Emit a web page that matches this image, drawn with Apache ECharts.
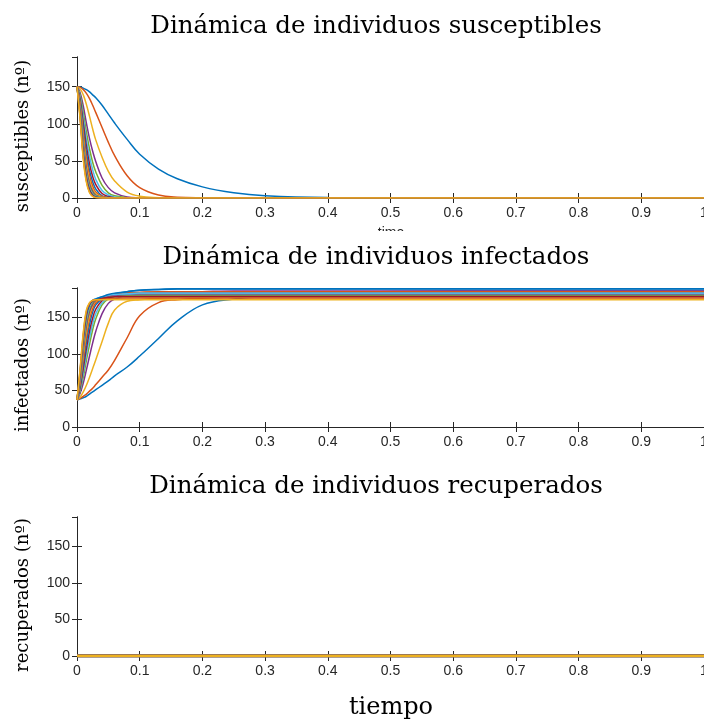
<!DOCTYPE html>
<html>
<head>
<meta charset="utf-8">
<title>Dinámica de individuos</title>
<script src="https://cdn.jsdelivr.net/npm/echarts@6/dist/echarts.min.js"></script>
<style>
    html, body { margin: 0; padding: 0; background: #fff; }
    #sir_chart { width: 704px; height: 726px; }
</style>
</head>
<body>
<div id="sir_chart"></div>
<script>

// Chart data
// ------------------------------

// Time samples (shared by every curve)
var tiempo = [0, 0.005, 0.01, 0.015, 0.02, 0.025, 0.03, 0.04, 0.05, 0.06, 0.08, 0.1, 0.13, 0.16, 0.2, 0.25, 0.3, 0.4, 0.6, 1];

// Susceptibles, one row per simulation
var susceptibles = [
    [150, 149.5, 148, 146, 143, 139, 135, 125, 113, 101, 79, 59, 39, 26, 15, 7, 3, 0.6, 0, 0],
    [150, 149, 146, 141, 134, 125, 115, 95, 75, 57, 30, 14, 4, 1, 0.2, 0, 0, 0, 0, 0],
    [150, 147, 139, 126, 110, 93, 78, 55, 36, 23, 8, 2.5, 0.5, 0, 0, 0, 0, 0, 0, 0],
    [150, 142, 124, 101, 80, 63, 49, 27, 14, 7, 1.5, 0.3, 0, 0, 0, 0, 0, 0, 0, 0],
    [150, 139, 115, 89, 66, 48, 35, 17, 7, 3, 0.5, 0, 0, 0, 0, 0, 0, 0, 0, 0],
    [150, 136, 108, 79, 56, 38, 25, 10, 4, 1.5, 0, 0, 0, 0, 0, 0, 0, 0, 0, 0],
    [150, 133, 101, 70, 46, 29, 18, 6, 2, 0.5, 0, 0, 0, 0, 0, 0, 0, 0, 0, 0],
    [150, 130, 94, 61, 37, 22, 12, 3, 1, 0, 0, 0, 0, 0, 0, 0, 0, 0, 0, 0],
    [150, 127, 87, 53, 30, 16, 8, 2, 0.5, 0, 0, 0, 0, 0, 0, 0, 0, 0, 0, 0],
    [150, 124, 81, 46, 24, 12, 6, 1, 0, 0, 0, 0, 0, 0, 0, 0, 0, 0, 0, 0],
    [150, 121, 75, 40, 19, 9, 4, 0.8, 0, 0, 0, 0, 0, 0, 0, 0, 0, 0, 0, 0],
    [150, 118, 70, 35, 16, 7, 3, 0.5, 0, 0, 0, 0, 0, 0, 0, 0, 0, 0, 0, 0],
    [150, 115, 65, 31, 13, 5, 2, 0.3, 0, 0, 0, 0, 0, 0, 0, 0, 0, 0, 0, 0],
    [150, 112, 61, 28, 11, 4, 1.5, 0, 0, 0, 0, 0, 0, 0, 0, 0, 0, 0, 0, 0],
    [150, 110, 58, 25, 9, 3, 1, 0, 0, 0, 0, 0, 0, 0, 0, 0, 0, 0, 0, 0],
    [150, 108, 55, 23, 8, 2.5, 0.8, 0, 0, 0, 0, 0, 0, 0, 0, 0, 0, 0, 0, 0],
    [150, 106, 52, 21, 7, 2, 0.5, 0, 0, 0, 0, 0, 0, 0, 0, 0, 0, 0, 0, 0]
];

// Infectados, one row per simulation
var infectados = [
    [37, 38.5, 40, 42, 45, 48, 51, 57, 63, 70, 82, 97, 121, 145, 167, 175, 178, 183, 186, 186],
    [37, 39, 42, 45, 49, 53, 58, 68, 78, 91, 122, 152, 170, 174, 176, 178, 180, 183, 185, 185],
    [37, 41, 48, 57, 68, 80, 92, 117, 142, 160, 172, 174, 176, 177, 177, 177, 177, 177, 177, 177],
    [37, 46, 60, 78, 97, 115, 131, 155, 169, 175, 179, 181, 183, 184, 185, 186, 186, 186, 186, 186],
    [37, 49, 68, 91, 113, 133, 148, 167, 175, 178, 180, 181, 181, 181, 181, 181, 181, 181, 181, 181],
    [37, 51, 74, 99, 122, 141, 155, 170, 176, 179, 181, 182, 182, 182, 182, 182, 182, 182, 182, 182],
    [37, 54, 80, 107, 131, 149, 161, 173, 178, 181, 183, 184, 184, 184, 184, 184, 184, 184, 184, 184],
    [37, 57, 87, 116, 140, 157, 167, 175, 179, 182, 185, 187, 188, 189, 189, 189, 189, 189, 189, 189],
    [37, 60, 93, 124, 148, 162, 170, 176, 179, 181, 183, 184, 185, 185, 185, 185, 185, 185, 185, 185],
    [37, 63, 99, 131, 153, 166, 172, 175, 176, 176, 177, 177, 177, 177, 177, 177, 177, 177, 177, 177],
    [37, 66, 105, 138, 158, 168, 173, 176, 178, 179, 180, 180, 180, 180, 180, 180, 180, 180, 180, 180],
    [37, 69, 110, 143, 162, 170, 174, 176, 177, 178, 179, 179, 179, 179, 179, 179, 179, 179, 179, 179],
    [37, 72, 115, 148, 165, 172, 175, 178, 180, 181, 182, 183, 183, 183, 183, 183, 183, 183, 183, 183],
    [37, 74, 119, 152, 167, 172, 174, 176, 177, 178, 178, 178, 178, 178, 178, 178, 178, 178, 178, 178],
    [37, 76, 123, 155, 168, 173, 175, 178, 181, 183, 185, 187, 188, 188.5, 188.5, 188.5, 188.5, 188.5, 188.5, 188.5],
    [37, 78, 126, 158, 169, 173, 174, 174.5, 175, 175, 175, 175, 175, 175, 175, 175, 175, 175, 175, 175],
    [37, 80, 129, 160, 170, 173, 174, 174, 174, 174, 174, 174, 174, 174, 174, 174, 174, 174, 174, 174]
];

// Recuperados (the same for every simulation)
var recuperados = [0, 0, 0, 0, 0, 0, 0, 0, 0, 0, 0, 0, 0, 0, 0, 0, 0, 0, 0, 0];

// Panel texts
var titulos = ['Dinámica de individuos susceptibles', 'Dinámica de individuos infectados', 'Dinámica de individuos recuperados'];
var etiquetasY = ['susceptibles (nº)', 'infectados (nº)', 'recuperados (nº)'];


// Setup module
// ------------------------------

var SirDynamics = function() {

    var _sirChart = function() {
        if (typeof echarts == 'undefined') {
            console.warn('Warning - echarts.min.js is not loaded.');
            return;
        }

        // Define element
        var sir_element = document.getElementById('sir_chart');
        if (!sir_element) return;

        var sir_chart = echarts.init(sir_element);

        // MATLAB default line colors
        var colors = ['#0072BD', '#D95319', '#EDB120', '#7E2F8E', '#77AC30', '#4DBEEE', '#A2142F'];

        var axisColor = '#262626';
        var tickFont = '"Liberation Sans", Arial, sans-serif';
        var serifFont = '"DejaVu Serif", serif';

        // Panel positions
        var panelTops = [57, 288, 517];
        var panelHeights = [141, 139, 139];
        var nameCenters = [136, 365, 595];

        var grids = [], xAxes = [], yAxes = [], series = [], graphics = [];

        panelTops.forEach(function(top, p) {
            grids.push({ left: 77, top: top, width: 627, height: panelHeights[p], outerBoundsMode: 'none' });

            // Bottom axis with labels
            xAxes.push({
                gridIndex: p, type: 'value', position: 'bottom',
                min: 0, max: 1, interval: 0.1,
                axisLine: { lineStyle: { color: axisColor, width: 1 } },
                axisTick: { inside: true, length: 5, lineStyle: { color: axisColor } },
                axisLabel: { color: axisColor, fontFamily: tickFont, fontSize: 14, margin: 8 },
                splitLine: { show: false }
            });
            // Top box edge
            xAxes.push({
                gridIndex: p, type: 'value', position: 'top',
                min: 0, max: 1, interval: 0.1,
                axisLine: { lineStyle: { color: axisColor, width: 1 } },
                axisTick: { inside: true, length: 5, lineStyle: { color: axisColor } },
                axisLabel: { show: false },
                splitLine: { show: false }
            });

            // Left axis with labels
            yAxes.push({
                gridIndex: p, type: 'value', position: 'left',
                min: 0, max: 190, interval: 50,
                axisLine: { show: true, lineStyle: { color: axisColor, width: 1 } },
                axisTick: { show: true, inside: true, length: 5, lineStyle: { color: axisColor } },
                axisLabel: { color: axisColor, fontFamily: tickFont, fontSize: 14, margin: 7, showMaxLabel: false },
                splitLine: { show: false }
            });
            // Right box edge
            yAxes.push({
                gridIndex: p, type: 'value', position: 'right',
                min: 0, max: 190, interval: 50,
                axisLine: { show: true, lineStyle: { color: axisColor, width: 1 } },
                axisTick: { show: true, inside: true, length: 5, lineStyle: { color: axisColor } },
                axisLabel: { show: false },
                splitLine: { show: false }
            });

            // Rotated y label
            graphics.push({
                type: 'text', x: 23, y: nameCenters[p], rotation: Math.PI / 2, z: 10,
                style: {
                    text: etiquetasY[p], fill: '#000', font: '18px ' + serifFont,
                    textAlign: 'center', textVerticalAlign: 'middle'
                }
            });
        });

        var makeSeries = function(p, values, k) {
            return {
                type: 'line',
                xAxisIndex: p * 2,
                yAxisIndex: p * 2,
                data: tiempo.map(function(t, i) { return [t, values[i]]; }),
                smooth: 0.4,
                showSymbol: false,
                lineStyle: { width: p === 2 ? 2.5 : 1.5, color: colors[k % colors.length] },
                itemStyle: { color: colors[k % colors.length] }
            };
        };

        susceptibles.forEach(function(row, k) { series.push(makeSeries(0, row, k)); });
        infectados.forEach(function(row, k) { series.push(makeSeries(1, row, k)); });
        susceptibles.forEach(function(row, k) { series.push(makeSeries(2, recuperados, k)); });

        // Half-hidden axis name of the first panel
        graphics.push({
            type: 'text', x: 391, y: 226, z: 5,
            style: { text: 'time', fill: '#262626', font: '14px ' + tickFont, textAlign: 'center' }
        });
        graphics.push({
            type: 'rect', shape: { x: 340, y: 231, width: 100, height: 16 }, z: 6,
            style: { fill: '#fff' }
        });

        // Titles and the x-axis name
        var titleY = [14, 245, 474];
        titulos.forEach(function(txt, p) {
            graphics.push({
                type: 'text', x: 376, y: titleY[p], z: 10,
                style: { text: txt, fill: '#000', font: '24.5px ' + serifFont, textAlign: 'center' }
            });
        });
        graphics.push({
            type: 'text', x: 391, y: 696, z: 10,
            style: { text: 'tiempo', fill: '#000', font: '24px ' + serifFont, textAlign: 'center' }
        });

        sir_chart.setOption({
            animation: false,
            backgroundColor: '#fff',
            grid: grids,
            xAxis: xAxes,
            yAxis: yAxes,
            series: series,
            graphic: graphics
        });
    };

    return {
        init: function() {
            _sirChart();
        }
    }
}();


// Initialize module
// ------------------------------

document.addEventListener('DOMContentLoaded', function() {
    SirDynamics.init();
});
</script>
</body>
</html>
